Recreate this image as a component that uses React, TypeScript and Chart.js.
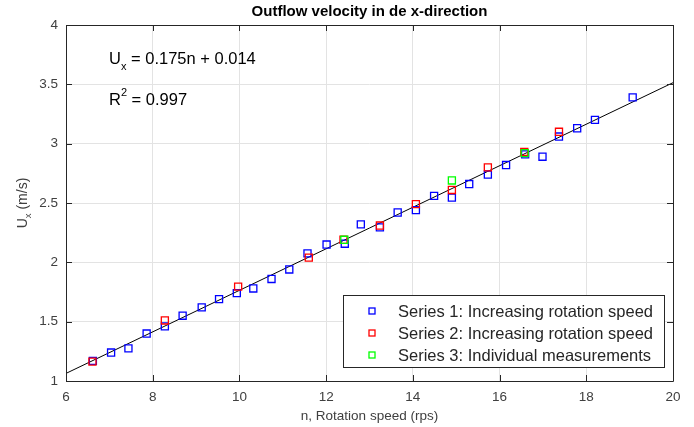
import React, { useEffect, useRef } from "react";
import { Chart, registerables } from "chart.js";

Chart.register(...registerables);

// Series 1: increasing rotation speed (blue)
const series1X = [6.62, 7.04, 7.44, 7.86, 8.28, 8.69, 9.13, 9.53, 9.94, 10.32, 10.74, 11.15, 11.57, 12.01, 12.43, 12.8, 13.24, 13.65, 14.07, 14.49, 14.9, 15.3, 15.73, 16.15, 16.59, 16.99, 17.37, 17.79, 18.2, 19.07];
const series1Y = [1.17, 1.24, 1.275, 1.4, 1.46, 1.55, 1.62, 1.69, 1.74, 1.78, 1.86, 1.94, 2.075, 2.15, 2.157, 2.32, 2.295, 2.42, 2.44, 2.56, 2.545, 2.66, 2.74, 2.82, 2.91, 2.89, 3.06, 3.13, 3.2, 3.39];
// Series 2: increasing rotation speed (red)
const series2X = [6.61, 8.28, 9.97, 11.6, 12.4, 13.24, 14.07, 14.9, 15.73, 16.57, 17.37];
const series2Y = [1.163, 1.51, 1.795, 2.04, 2.19, 2.31, 2.49, 2.61, 2.8, 2.93, 3.1];
// Series 3: individual measurements (green)
const series3X = [12.42, 14.9, 16.58];
const series3Y = [2.19, 2.69, 2.92];
// Fit line endpoints (Ux = 0.175n + 0.014)
const fitX = [6, 20];
const fitY = [1.064, 3.514];

const seriesLabels = [
  "Series 1: Increasing rotation speed",
  "Series 2: Increasing rotation speed",
  "Series 3: Individual measurements",
];
const seriesColors = ["#0000ff", "#ff0000", "#00ff00"];

const titleText = "Outflow velocity in de x-direction";
const xTitle = "n, Rotation speed (rps)";
const FONT = "'Liberation Sans', Arial, Helvetica, sans-serif";
const AXIS_COLOR = "#262626";
const TICK_COLOR = "#404040";

const toPts = (xs: number[], ys: number[]) => xs.map((x, i) => ({ x, y: ys[i] }));

export default function App() {
  const ref = useRef<HTMLCanvasElement>(null);
  useEffect(() => {
    document.body.style.margin = "0";
    const canvas = ref.current!;
    const decor = {
      id: "decor",
      afterDraw(chart: any) {
        const ctx = chart.ctx as CanvasRenderingContext2D;
        const a = chart.chartArea;
        const xs = chart.scales.x;
        const ys = chart.scales.y;
        ctx.save();
        // box
        ctx.strokeStyle = AXIS_COLOR;
        ctx.lineWidth = 1;
        ctx.beginPath();
        ctx.rect(Math.round(a.left) + 0.5, Math.round(a.top) + 0.5, Math.round(a.right - a.left), Math.round(a.bottom - a.top));
        ctx.stroke();
        // inward ticks
        const tl = 6;
        ctx.beginPath();
        xs.ticks.forEach((t: any) => {
          const px = Math.round(xs.getPixelForValue(t.value)) + 0.5;
          ctx.moveTo(px, a.bottom);
          ctx.lineTo(px, a.bottom - tl);
          ctx.moveTo(px, a.top);
          ctx.lineTo(px, a.top + tl);
        });
        ys.ticks.forEach((t: any) => {
          const py = Math.round(ys.getPixelForValue(t.value)) + 0.5;
          ctx.moveTo(a.left, py);
          ctx.lineTo(a.left + tl, py);
          ctx.moveTo(a.right, py);
          ctx.lineTo(a.right - tl, py);
        });
        ctx.stroke();

        // title
        ctx.fillStyle = "#000";
        ctx.font = `bold 15px ${FONT}`;
        ctx.textAlign = "center";
        ctx.textBaseline = "middle";
        ctx.fillText(titleText, (a.left + a.right) / 2, 12);

        // x title
        ctx.fillStyle = TICK_COLOR;
        ctx.font = `13.5px ${FONT}`;
        ctx.fillText(xTitle, (a.left + a.right) / 2, 416);

        // y title (rotated) U_x (m/s)
        ctx.save();
        ctx.translate(22, (a.top + a.bottom) / 2);
        ctx.rotate(-Math.PI / 2);
        ctx.textAlign = "left";
        ctx.textBaseline = "alphabetic";
        const f1 = `14px ${FONT}`;
        const f2 = `9.5px ${FONT}`;
        ctx.font = f1;
        const wU = ctx.measureText("U").width;
        const wRest = ctx.measureText(" (m/s)").width;
        ctx.font = f2;
        const wx = ctx.measureText("x").width;
        const total = wU + wx + wRest;
        let cx = -total / 2;
        ctx.font = f1;
        ctx.fillText("U", cx, 5);
        cx += wU;
        ctx.font = f2;
        ctx.fillText("x", cx, 9);
        cx += wx;
        ctx.font = f1;
        ctx.fillText(" (m/s)", cx, 5);
        ctx.restore();

        // annotations
        ctx.fillStyle = "#000";
        ctx.textAlign = "left";
        ctx.textBaseline = "alphabetic";
        const af = `16.5px ${FONT}`;
        const asf = `11px ${FONT}`;
        let ax = 109;
        ctx.font = af;
        ctx.fillText("U", ax, 64);
        ax += ctx.measureText("U").width;
        ctx.font = asf;
        ctx.fillText("x", ax, 70);
        ax += ctx.measureText("x").width;
        ctx.font = af;
        ctx.fillText(" = 0.175n + 0.014", ax, 64);

        ax = 109;
        ctx.fillText("R", ax, 105);
        ax += ctx.measureText("R").width;
        ctx.font = asf;
        ctx.fillText("2", ax, 96);
        ax += ctx.measureText("2").width;
        ctx.font = af;
        ctx.fillText(" = 0.997", ax, 105);

        // legend
        const lx = 343, ly = 295, lw = 321, lh = 72;
        ctx.fillStyle = "#fff";
        ctx.fillRect(lx, ly, lw, lh);
        ctx.strokeStyle = AXIS_COLOR;
        ctx.lineWidth = 1;
        ctx.strokeRect(lx + 0.5, ly + 0.5, lw, lh);
        ctx.font = `16.5px ${FONT}`;
        ctx.textBaseline = "middle";
        const rows = [311, 333, 355];
        seriesLabels.forEach((lab, i) => {
          ctx.strokeStyle = seriesColors[i];
          ctx.lineWidth = 1.3;
          ctx.strokeRect(369, rows[i] - 3, 6, 6);
          ctx.fillStyle = AXIS_COLOR;
          ctx.fillText(lab, 398, rows[i] + 1);
        });
        ctx.restore();
      },
    };

    const mk = (i: number, xs: number[], ys: number[], order: number) => ({
      label: seriesLabels[i],
      data: toPts(xs, ys),
      borderColor: seriesColors[i],
      backgroundColor: "rgba(0,0,0,0)",
      pointStyle: "rect",
      pointRadius: 5,
      pointBorderWidth: 1.3,
      showLine: false,
      order,
    });

    const fmt = (v: any) => `${Number(v)}`;

    const chart = new Chart(canvas, {
      type: "scatter",
      data: {
        datasets: [
          {
            type: "line",
            label: "fit",
            data: toPts(fitX, fitY),
            borderColor: "#000",
            borderWidth: 1,
            pointRadius: 0,
            showLine: true,
            fill: false,
            order: 4,
          } as any,
          mk(0, series1X, series1Y, 3),
          mk(1, series2X, series2Y, 2),
          mk(2, series3X, series3Y, 1),
        ],
      },
      options: {
        animation: false,
        responsive: false,
        layout: { padding: { top: 25, right: 21, left: 0, bottom: 0 } },
        plugins: { legend: { display: false }, title: { display: false }, tooltip: { enabled: false } },
        scales: {
          x: {
            type: "linear",
            min: 6,
            max: 20,
            ticks: { stepSize: 2, color: TICK_COLOR, font: { family: FONT, size: 13.5 }, padding: 8, callback: fmt },
            grid: { color: "#e3e3e3", drawTicks: false },
            border: { display: false },
            afterFit: (s: any) => { s.height = 46; },
          },
          y: {
            type: "linear",
            min: 1,
            max: 4,
            ticks: { stepSize: 0.5, color: TICK_COLOR, font: { family: FONT, size: 13.5 }, padding: 8, callback: fmt },
            grid: { color: "#e3e3e3", drawTicks: false },
            border: { display: false },
            afterFit: (s: any) => { s.width = 66; },
          },
        },
      },
      plugins: [decor],
    });
    return () => chart.destroy();
  }, []);
  return (
    <div style={{ width: 694, height: 427 }}>
      <canvas ref={ref} width={694} height={427} style={{ display: "block" }} />
    </div>
  );
}
